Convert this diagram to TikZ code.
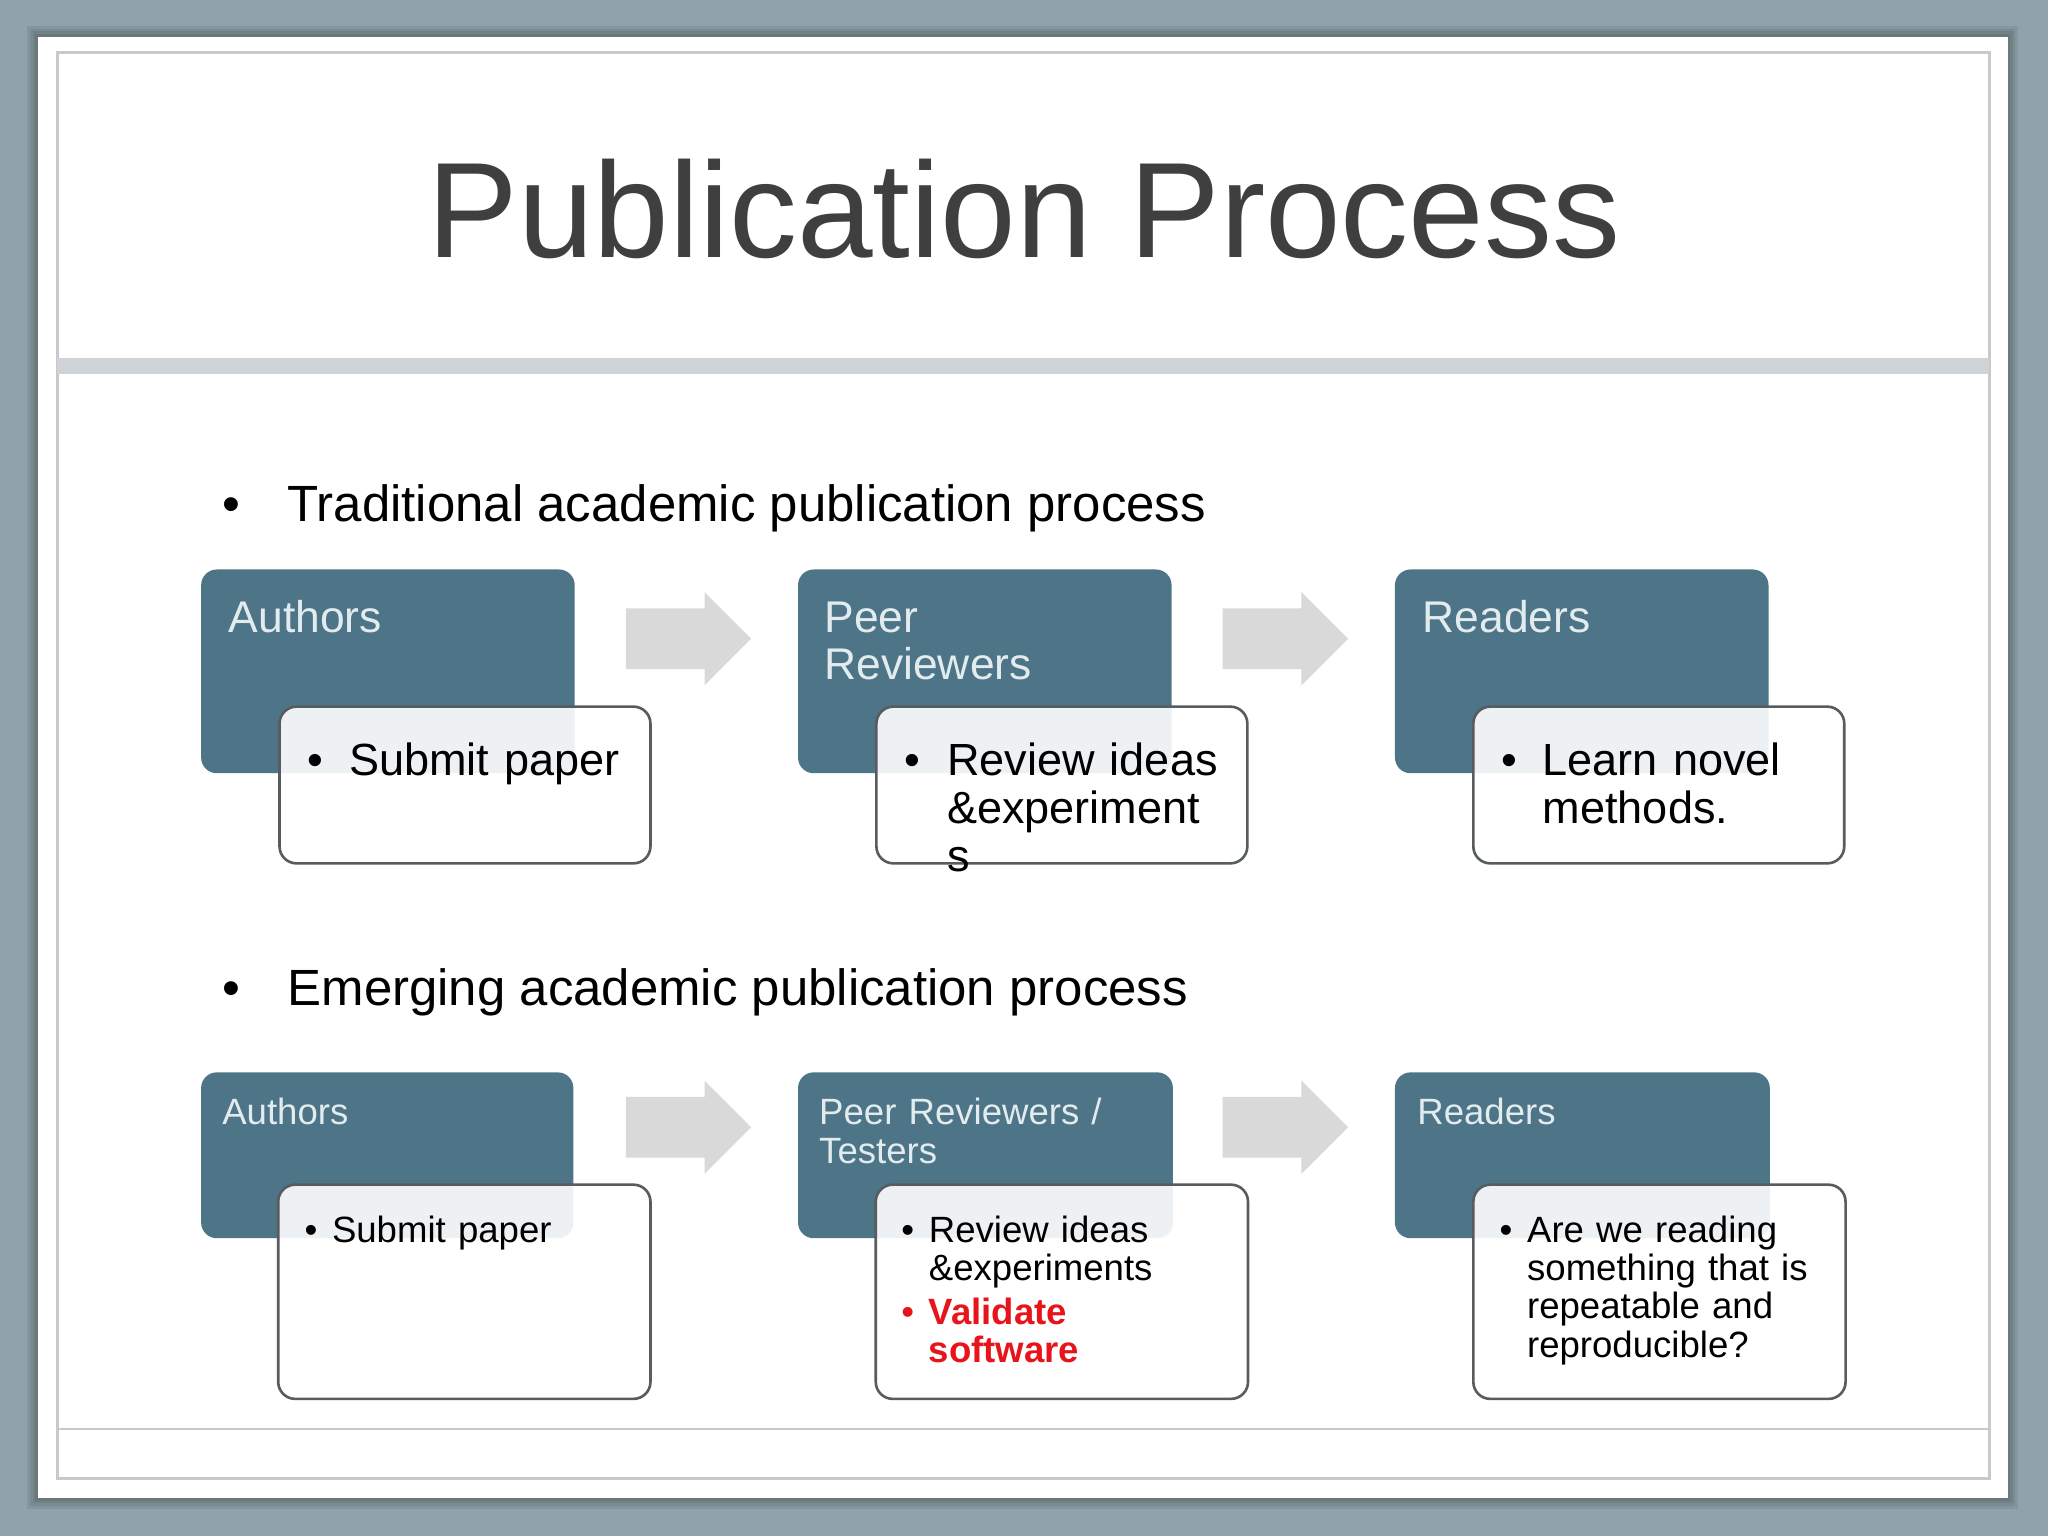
\documentclass[tikz,border=0pt]{standalone}
\usepackage{fontspec}
\setmainfont{Liberation Sans}
\usepackage{xcolor}
\usepackage{tikz}
\usetikzlibrary{shapes.arrows, positioning}

\definecolor{slidebg}{HTML}{8FA3AB}
\definecolor{boxblue}{HTML}{4D7487}
\definecolor{boxtext}{HTML}{E2EBEE}
\definecolor{framegray}{HTML}{C9C9C9}
\definecolor{bargray}{HTML}{CFD3D8}
\definecolor{notegray}{HTML}{565C5F}
\definecolor{titlegray}{HTML}{3F3F3F}
\definecolor{arrowgray}{HTML}{D9D9D9}
\definecolor{alertred}{HTML}{E8141B}

\newcommand{\titlefont}{\fontsize{104}{110}\selectfont}
\newcommand{\headfont}{\fontsize{39}{44}\selectfont}
\newcommand{\rolebig}{\fontsize{34}{36}\selectfont}
\newcommand{\rolesmall}{\fontsize{28}{30}\selectfont}
\newcommand{\notebig}{\fontsize{34.5}{36.5}\selectfont}
\newcommand{\notesmall}{\fontsize{28}{29.4}\selectfont}

\begin{document}
\begin{tikzpicture}[x=1pt, y=-1pt,
  rolebox/.style={rectangle, rounded corners=12pt, fill=boxblue, inner sep=0pt},
  notebox/.style={rectangle, rounded corners=13pt, draw=notegray, line width=2pt,
    fill=white, fill opacity=0.9, inner sep=0pt},
  flowarrow/.style={single arrow, fill=arrowgray, minimum height=96pt, inner xsep=0pt,
    inner ysep=23pt, single arrow head extend=12.5pt},
  rolelabel/.style={anchor=base west, inner sep=0pt, text=boxtext, align=left, text width=250pt},
  notetext/.style={anchor=base west, inner sep=0pt, align=left, text width=236pt},
  dot/.style={anchor=base west, inner sep=0pt}]

  \useasboundingbox (0,0) rectangle (1568,1176);
  \fill[slidebg] (0,0) rectangle (1568,1176);
  \foreach \d in {2,4,6,8}
    \fill[black, opacity=0.07] ({29-\d},{28-\d}) rectangle ({1537+\d},{1147+\d});
  \fill[white] (29,28) rectangle (1537,1147);
  \draw[framegray, line width=2pt] (44,40) rectangle (1523,1132);
  \fill[bargray] (44,274) rectangle (1523,286);
  \draw[framegray, line width=1.5pt] (44,1094) -- (1523,1094);

  \node[anchor=base, inner sep=0pt, text=titlegray, font=\titlefont] (title) at (784,197) {Publication Process};

  \node[dot, font=\headfont] (dot1) at (170,399) {•};
  \node[anchor=base west, inner sep=0pt, font=\headfont] (trad) at (220,399) {Traditional academic publication process};
  \node[dot, font=\headfont] (dot2) at (170,770) {•};
  \node[anchor=base west, inner sep=0pt, font=\headfont] (emerg) at (220,770) {Emerging academic publication process};

  % traditional row
  \node[rolebox, minimum width=286pt, minimum height=156pt] (auth1) at (297,514) {};
  \node[rolebox, minimum width=286pt, minimum height=156pt] (peer1) at (754,514) {};
  \node[rolebox, minimum width=286pt, minimum height=156pt] (read1) at (1211,514) {};
  \node[rolelabel, font=\rolebig] (auth1lbl) at (175,484) {Authors};
  \node[rolelabel, font=\rolebig] (peer1lbl) at (631,484) {Peer\\Reviewers};
  \node[rolelabel, font=\rolebig] (read1lbl) at (1089,484) {Readers};
  \node[flowarrow] (arr1) at (515.5,489) {};
  \node[flowarrow] (arr2) at (972.5,489) {};
  \node[notebox, minimum width=284pt, minimum height=120pt] (auth1note) at (356,601) {};
  \node[notebox, minimum width=284pt, minimum height=120pt] (peer1note) at (813,601) {};
  \node[notebox, minimum width=284pt, minimum height=120pt] (read1note) at (1270,601) {};
  \node[dot, font=\notebig] (b1) at (235,594) {•};
  \node[notetext, font=\notebig] (auth1txt) at (267,594) {Submit paper};
  \node[dot, font=\notebig] (b2) at (692,594) {•};
  \node[notetext, font=\notebig] (peer1txt) at (725,594) {Review ideas\\\&experiment\\s};
  \node[dot, font=\notebig] (b3) at (1149,594) {•};
  \node[notetext, font=\notebig] (read1txt) at (1181,594) {Learn novel\\methods.};

  % emerging row
  \node[rolebox, minimum width=285pt, minimum height=127pt] (auth2) at (296.5,884.5) {};
  \node[rolebox, minimum width=287pt, minimum height=127pt] (peer2) at (754.5,884.5) {};
  \node[rolebox, minimum width=287pt, minimum height=127pt] (read2) at (1211.5,884.5) {};
  \node[rolelabel, font=\rolesmall] (auth2lbl) at (170,861) {Authors};
  \node[rolelabel, font=\rolesmall] (peer2lbl) at (627,861) {Peer Reviewers /\\Testers};
  \node[rolelabel, font=\rolesmall] (read2lbl) at (1085,861) {Readers};
  \node[flowarrow] (arr3) at (515.5,863) {};
  \node[flowarrow] (arr4) at (972.5,863) {};
  \node[notebox, minimum width=285pt, minimum height=164pt] (auth2note) at (355.5,989) {};
  \node[notebox, minimum width=285pt, minimum height=164pt] (peer2note) at (813,989) {};
  \node[notebox, minimum width=285pt, minimum height=164pt] (read2note) at (1270.5,989) {};
  \node[dot, font=\notesmall] (b4) at (233,951) {•};
  \node[notetext, font=\notesmall] (auth2txt) at (254,951) {Submit paper};
  \node[dot, font=\notesmall] (b5) at (690,951) {•};
  \node[notetext, font=\notesmall] (peer2txt) at (711,951) {Review ideas\\\&experiments};
  \node[dot, text=alertred, font=\notesmall] (b6) at (690,1014) {•};
  \node[notetext, text=alertred, font=\notesmall\bfseries] (peer2alert) at (711,1014) {Validate\\software};
  \node[dot, font=\notesmall] (b7) at (1148,951) {•};
  \node[notetext, font=\notesmall] (read2txt) at (1169,951) {Are we reading\\something that is\\repeatable and\\reproducible?};
\end{tikzpicture}
\end{document}
